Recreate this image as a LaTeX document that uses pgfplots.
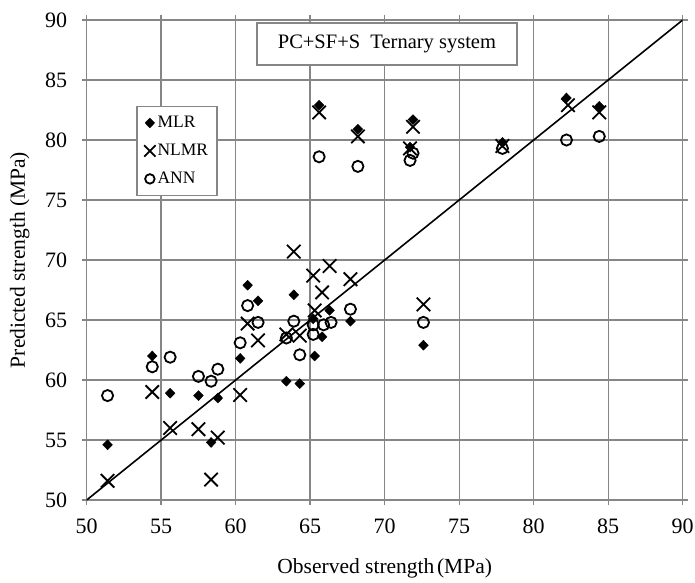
\documentclass[border=0pt]{standalone}
\usepackage{fontspec}
\setmainfont{Liberation Serif}
\usepackage{pgfplots}
\pgfplotsset{compat=1.18}
\definecolor{gridgray}{RGB}{134,134,134}

\pgfplotstableread{
obs pred
51.4 54.6
54.4 62.0
55.6 58.9
57.5 58.7
58.35 54.8
58.8 58.5
60.3 61.8
60.8 67.9
61.5 66.6
63.4 59.9
63.9 67.1
64.3 59.7
65.2 65.1
65.3 62.0
65.8 63.6
66.3 65.8
67.7 64.9
72.6 62.9
65.6 82.9
68.2 80.9
71.9 81.7
71.7 79.4
77.9 79.8
82.2 83.5
84.4 82.8
}\mlr

\pgfplotstableread{
obs pred
51.4 51.6
54.4 59.0
55.6 56.0
57.5 55.9
58.35 51.7
58.8 55.2
60.3 58.75
60.8 64.7
61.5 63.3
63.4 63.8
63.9 70.7
64.3 63.7
65.2 68.7
65.3 65.8
65.8 67.3
66.3 69.5
67.7 68.4
72.6 66.3
65.6 82.3
68.2 80.3
71.9 81.1
71.7 79.3
77.9 79.5
82.3 82.9
84.4 82.3
}\nlmr

\pgfplotstableread{
obs pred
51.4 58.7
54.4 61.1
55.6 61.9
57.5 60.3
58.35 59.9
58.8 60.9
60.3 63.1
60.8 66.2
61.5 64.8
63.4 63.5
63.9 64.9
64.3 62.1
65.2 64.6
65.2 63.8
65.9 64.6
66.4 64.8
67.7 65.9
72.6 64.8
65.6 78.6
68.2 77.8
71.9 78.9
71.7 78.3
77.9 79.3
82.2 80.0
84.4 80.3
}\ann

\begin{document}
\begin{tikzpicture}
\path[use as bounding box] (-86.7bp,-83bp) rectangle (608.3bp,500bp);
\begin{axis}[
  scale only axis, width=596bp, height=480bp,
  xmin=50, xmax=90, ymin=50, ymax=90,
  xtick={50,55,...,90}, ytick={50,55,...,90},
  grid=major,
  grid style={gridgray, line width=1.4bp},
  axis line style={gridgray, line width=1.4bp},
  tick align=outside, major tick length=5bp,
  tick style={gridgray, line width=1.4bp},
  /pgf/number format/assume math mode=true,
  tick label style={font=\fontsize{22bp}{24bp}\selectfont, black},
  xticklabel style={anchor=center, yshift=-21bp},
  yticklabel style={anchor=east, xshift=-11bp},
  label style={font=\fontsize{21.5bp}{24bp}\selectfont},
  xlabel={Observed strength\hspace{0.12em}(MPa)},
  ylabel={Predicted strength (MPa)},
  xlabel style={at={(axis description cs:0.5,-0.1417)}, anchor=center},
  ylabel style={at={(axis description cs:-0.1124,0.5)}, anchor=center, rotate=0},
  legend style={at={(axis cs:53.34,82.85)}, anchor=north west,
    draw=gridgray, line width=1.4bp, fill=white,
    font=\fontsize{17.5bp}{19bp}\selectfont, row sep=11bp,
    inner xsep=7bp, inner ysep=8bp,
    nodes={inner xsep=2bp}},
  legend cell align=left,
  legend image code/.code={\draw[mark repeat=2,mark phase=2, scale=0.85]
    plot coordinates {(0bp,0bp)(8bp,0bp)(16bp,0bp)};},
]
\addplot[black, line width=1.6bp, no marks, forget plot] coordinates {(50,50) (90,90)};
\addplot[only marks, mark=diamond*, mark size=5bp, mark options={xscale=1.3, black, fill=black}]
  table[x=obs, y=pred] {\mlr};
\addlegendentry{MLR}
\addplot[only marks, mark=x, mark size=9.5bp, mark options={black, line width=1.8bp}]
  table[x=obs, y=pred] {\nlmr};
\addlegendentry{NLMR}
\addplot[only marks, mark=o, mark size=5.6bp, mark options={black, line width=1.8bp}]
  table[x=obs, y=pred] {\ann};
\addlegendentry{ANN}
\node[draw=gridgray, line width=1.4bp, fill=white, minimum width=260bp,
  minimum height=42bp, font=\fontsize{20.5bp}{24bp}\selectfont]
  at (axis cs:70.15,88.0) {PC+SF+S\ \ Ternary system};
\end{axis}
\end{tikzpicture}
\end{document}
